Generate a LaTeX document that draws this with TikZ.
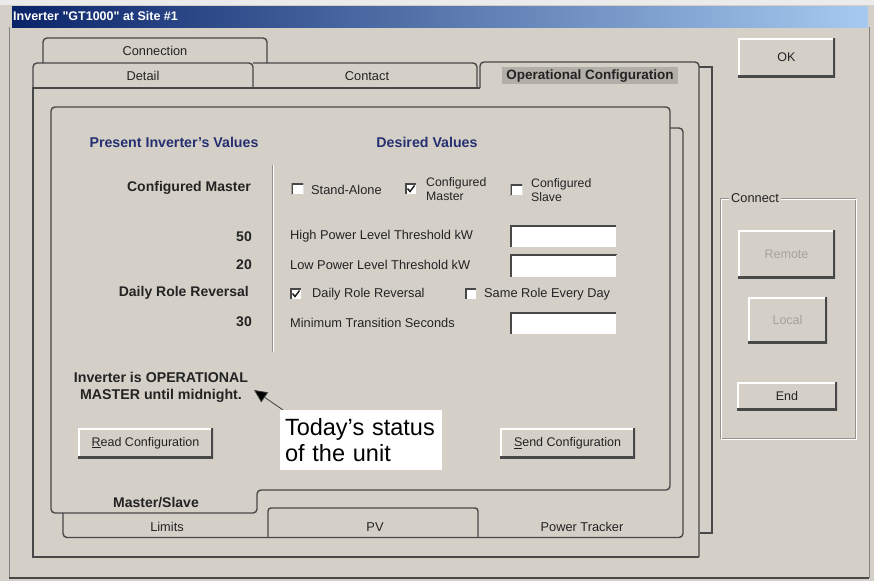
\documentclass[tikz,border=0pt]{standalone}
\usepackage{fontspec}
\setmainfont{Liberation Sans}
\newfontfamily\titlefont{Liberation Sans}
\usetikzlibrary{arrows.meta}
\definecolor{winbg}{RGB}{212,208,200}
\definecolor{edge}{RGB}{72,72,72}
\definecolor{navy}{RGB}{38,48,112}
\definecolor{txt}{RGB}{35,35,35}
\definecolor{dis}{RGB}{165,162,155}
\definecolor{focusbg}{RGB}{178,175,168}
\definecolor{ttlA}{RGB}{10,36,106}
\definecolor{ttlB}{RGB}{166,202,240}
\definecolor{etch}{RGB}{150,146,138}
\tikzset{
  frame/.style={draw=edge, line width=1.4pt},
  ui/.style={font=\fontsize{12.8}{15}\selectfont, text=txt, inner sep=0pt},
  uib/.style={font=\fontsize{14}{16}\selectfont\bfseries, text=txt, inner sep=0pt},
  hdr/.style={font=\fontsize{14.2}{16}\selectfont\bfseries, text=navy, inner sep=0pt},
  raised/.style={fill=winbg, inner sep=0pt, font=\fontsize{12.5}{14}\selectfont, text=txt,
    path picture={
      \draw[white,line width=3pt] (path picture bounding box.south west) -- (path picture bounding box.north west) -- (path picture bounding box.north east);
      \draw[edge,line width=3.6pt] (path picture bounding box.north east) -- (path picture bounding box.south east) -- (path picture bounding box.south west);}},
  sunken/.style={fill=white, inner sep=0pt,
    path picture={
      \draw[edge,line width=3.4pt] (path picture bounding box.south west) -- (path picture bounding box.north west) -- (path picture bounding box.north east);
      \draw[winbg,line width=2pt] (path picture bounding box.north east) -- (path picture bounding box.south east) -- (path picture bounding box.south west);}},
  chk/.style={sunken, minimum width=12pt, minimum height=12pt},
  fld/.style={sunken, minimum width=107pt, minimum height=23pt},
  tick/.style={draw=txt, line width=1.5pt},
  callout/.style={fill=white, inner sep=5pt, align=left, text width=152pt, minimum height=60pt,
    font=\fontsize{23.5}{26}\selectfont, text=black},
  pointer/.style={draw=black!75, line width=0.8pt, -{Triangle[length=13pt,width=12pt,fill=black]}},
}
\begin{document}
\begin{tikzpicture}[x=1pt,y=-1pt]
\useasboundingbox (0,0) rectangle (874,581);
% window background
\fill[winbg] (0,0) rectangle (874,581);
\fill[black!8] (0,0) rectangle (874,5);
\draw[gray, line width=1pt] (9,27) -- (9,578);
\draw[gray, line width=1pt] (869,27) -- (869,578);
\draw[edge, line width=1.4pt] (9,578) -- (869,578);
% title bar
\shade[left color=ttlA, right color=ttlB] (12,6) rectangle (868,27);
\node[anchor=west, text=white, inner sep=0pt, font=\titlefont\fontsize{12.5}{14}\selectfont\bfseries] (title) at (13,16.5) {Inverter "GT1000" at Site \#1};

% back page of the outer tab control
\draw[frame] (699,67) -- (712,67) -- (712,533) -- (700,533);
% top tabs
\draw[frame, rounded corners=4pt] (43,63) -- (43,38) -- (267,38) -- (267,63);
\draw[frame, rounded corners=4pt] (33,88) -- (33,63) -- (253,63) -- (253,88);
\draw[frame, rounded corners=4pt] (253,63) -- (477,63) -- (477,88);
\draw[frame, rounded corners=4pt] (480,88) -- (480,62) -- (699,62) -- (699,557);
% outer page
\draw[frame] (480,88) -- (33,88) -- (33,557) -- (699,557);
\fill[focusbg] (502,67) rectangle (678,84);
\node[ui] (tabconn) at (155,51) {Connection};
\node[ui] (tabdet) at (143,76) {Detail};
\node[ui] (tabcon) at (367,76) {Contact};
\node[uib, font=\fontsize{13.5}{15}\selectfont\bfseries] (tabop) at (590,76) {Operational Configuration};

% back page of the inner tab control and bottom tabs
\draw[frame, rounded corners=4pt] (670,128) -- (683,128) -- (683,537.5) -- (63,537.5) -- (63,513);
\draw[frame, rounded corners=3pt] (268,537.5) -- (268,508) -- (478,508) -- (478,537.5);
\node[ui] (tablim) at (167,527) {Limits};
\node[ui] (tabpv) at (375,527) {PV};
\node[ui] (tabpt) at (582,527) {Power Tracker};

% inner page with selected Master/Slave tab
\draw[frame, rounded corners=4pt] (51,107) -- (670,107) -- (670,490) -- (257,490) -- (257,513) -- (51,513) -- cycle;
\node[uib] (tabms) at (156,503) {Master/Slave};

% separator
\draw[etch, line width=1pt] (272,165) -- (272,352);
\draw[white, line width=1pt] (273.2,165) -- (273.2,352);

% headers
\node[hdr] (hpres) at (174,142) {Present Inverter's Values};
\node[hdr] (hdes) at (427,142) {Desired Values};

% present values
\node[uib, anchor=east] (pmode) at (251,188) {Configured Master};
\node[uib, anchor=east] (phigh) at (252,237) {50};
\node[uib, anchor=east] (plow) at (252,265) {20};
\node[uib, anchor=east] (prole) at (249,293) {Daily Role Reversal};
\node[uib, anchor=east] (pmin) at (252,322) {30};

% desired values
\node[chk] (c1) at (297.5,189) {};
\node[ui, anchor=west] (l1) at (311,190) {Stand-Alone};
\node[chk] (c2) at (411,189) {};
\draw[tick] ([shift={(-3.5,-0.5)}]c2.center) -- ++(2.5,3) -- ++(4.5,-6);
\node[ui, anchor=west, align=left, font=\fontsize{12.3}{14}\selectfont] (l2) at (426,189.5) {Configured\\Master};
\node[chk] (c3) at (516.5,190) {};
\node[ui, anchor=west, align=left, font=\fontsize{12.3}{14}\selectfont] (l3) at (531,190) {Configured\\Slave};

\node[ui, anchor=west] (lhigh) at (290,236) {High Power Level Threshold kW};
\node[fld] (f1) at (563.5,236.5) {};
\node[ui, anchor=west] (llow) at (290,265) {Low Power Level Threshold kW};
\node[fld] (f2) at (563.5,266) {};
\node[chk] (c4) at (296,294) {};
\draw[tick] ([shift={(-3.5,-0.5)}]c4.center) -- ++(2.5,3) -- ++(4.5,-6);
\node[ui, anchor=west] (l4) at (312,294) {Daily Role Reversal};
\node[chk] (c5) at (471,294) {};
\node[ui, anchor=west] (l5) at (484,294) {Same Role Every Day};
\node[ui, anchor=west] (lmin) at (290,323) {Minimum Transition Seconds};
\node[fld] (f3) at (563.5,323.5) {};

% status
\node[uib, align=center, font=\fontsize{14.2}{17}\selectfont\bfseries] (status) at (161,387) {Inverter is OPERATIONAL\\MASTER until midnight.};

% buttons
\node[raised, minimum width=135pt, minimum height=30pt] (read) at (145.5,443) {\underline{R}ead Configuration};
\node[raised, minimum width=135pt, minimum height=30pt] (send) at (567.5,443) {\underline{S}end Configuration};
\node[raised, minimum width=97pt, minimum height=39pt] (ok) at (786.5,57.5) {OK};

% connect group
\draw[etch, line width=1pt] (720,198) rectangle (855,438);
\draw[white, line width=1pt] (721.2,199.2) rectangle (856.2,439.2);
\node[ui, anchor=west, fill=winbg, inner sep=2pt] (grp) at (729,198) {Connect};
\node[raised, minimum width=97pt, minimum height=48pt, text=dis] (remote) at (786.5,254) {Remote};
\node[raised, minimum width=79pt, minimum height=46pt, text=dis] (local) at (787.5,320) {Local};
\node[raised, minimum width=100pt, minimum height=28pt] (endb) at (787,396) {End};

% callout
\node[callout] (call) at (361,440) {Today’s status\\of the unit};
\coordinate (tip) at (254,390);
\draw[pointer] ([xshift=3pt]call.north west) -- (tip);
\end{tikzpicture}
\end{document}
